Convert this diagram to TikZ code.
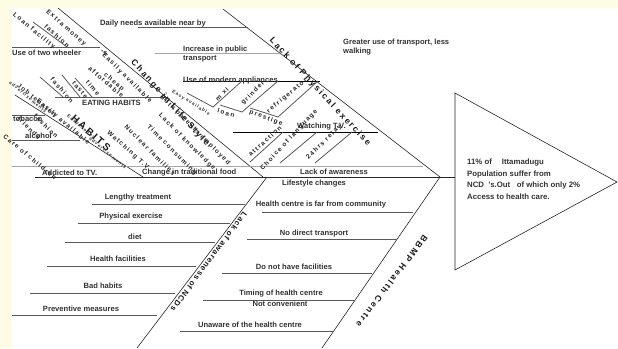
\documentclass[tikz,border=0pt]{standalone}
\usepackage{fontspec}
\setmainfont{Liberation Sans}
\newfontfamily\spaced[LetterSpace=22]{Liberation Sans}
\newfontfamily\spacedsm[LetterSpace=12]{Liberation Sans}
\usetikzlibrary{positioning}
\definecolor{bgyellow}{RGB}{255,252,230}
\tikzset{
    lbl/.style = {font=\bfseries\fontsize{7.6}{9}\selectfont, text=black!80, inner sep=0pt},
    tinylbl/.style = {font=\spaced\bfseries\fontsize{4.6}{5}\selectfont, text=black!80, inner sep=0pt},
    sub/.style = {font=\spaced\bfseries\fontsize{6.4}{7}\selectfont, text=black!85, inner sep=0pt},
    cause/.style = {font=\spaced\bfseries\fontsize{8.6}{10}\selectfont, text=black!90, inner sep=0pt},
    causesm/.style = {font=\spacedsm\bfseries\fontsize{7.8}{9}\selectfont, text=black!90, inner sep=0pt},
    bone/.style = {line width=0.6pt, black!85},
    twig/.style = {line width=0.8pt, black!65},
    greytwig/.style = {line width=0.9pt, black!35}
}
\begin{document}
\begin{tikzpicture}[x=1pt, y=-1pt]
\useasboundingbox (0,0) rectangle (618,348);
\fill[bgyellow] (0,0) rectangle (618,348);
\fill[white] (12,8) rectangle (618,348);

% main bones
\coordinate (tip) at (440,177);
\coordinate (pe) at (223,9);
\coordinate (ls) at (58,8);
\coordinate (lsE) at (263,177);
\coordinate (hb) at (15,95);
\coordinate (hbE) at (143,177);
\coordinate (aw) at (137,348);
\coordinate (awE) at (267,177);
\coordinate (hc) at (322,348);
\coordinate (sp) at (35,177);
\coordinate (h1) at (455,93);
\coordinate (h2) at (617,182);
\coordinate (h3) at (455,270);

\draw[bone] (pe) -- (tip);
\draw[bone] (ls) -- (lsE);
\draw[bone] (hb) -- (hbE);
\draw[bone] (aw) -- (awE);
\draw[bone] (hc) -- (tip);
\draw[bone] (sp) -- (h1 |- sp);
\draw[bone] (h1) -- (h2) -- (h3) -- cycle;
\draw[greytwig] (12,166) -- (423,166);

% head
\node[lbl, font=\bfseries\fontsize{7.8}{11.5}\selectfont, align=left, anchor=north west] (effect) at (467,159)
  {11\% of \quad Ittamadugu\\Population suffer from\\NCD \ 's.Out \ \ of which only 2\%\\Access to health care.};

% causes
\node[cause, rotate=-47] (physical) at (320,92) {Lack of Physical exercise};
\node[cause, rotate=-48] (lifestyle) at (170,103) {Change in Life Style};
\node[cause, font=\spaced\bfseries\fontsize{10}{11}\selectfont, rotate=-41] (habits) at (91,133) {HABITS};
\node[causesm, rotate=-127] (awareness) at (209,262) {Lack of awareness of NCDs};
\node[cause, rotate=-127] (bbmp) at (392,281) {BBMP Health Centre};

% physical exercise twigs
\draw[twig] (138,27) -- (248,27);
\draw[greytwig] (155,53) -- (280,53);
\draw[twig, black] (183,81) -- (320,81);
\draw[twig, black] (233,132) -- (378,132);
\node[lbl, anchor=base west] (daily) at (100,25) {Daily needs available near by};
\node[lbl, anchor=north west, align=left] (pubtr) at (183,46) {Increase in public\\transport};
\node[lbl, anchor=base west] (appl) at (183,82) {Use of modern appliances};
\node[lbl, anchor=north west, align=left] (walk) at (343,39) {Greater use of transport, less\\walking};
\node[lbl, anchor=base west] (tv) at (297,128) {Watching T.V.};
\draw[twig] (187,93) -- (213,107) -- (242,81);
\draw[twig] (220,105) -- (242,112) -- (278,81);
\draw[twig] (250,108) -- (278,117) -- (318,81);
\draw[twig] (250,162) -- (283,132);
\draw[twig] (280,163) -- (317,132);
\draw[twig] (315,163) -- (352,132);
\node[tinylbl, rotate=-32] (easy) at (191,103) {Easy available};
\node[sub, rotate=45] (mixi) at (222,94) {m xi};
\node[sub, rotate=-15] (loan) at (226,113) {loan};
\node[sub, rotate=45] (grinder) at (253,93) {grinder};
\node[sub, rotate=40] (fridge) at (287,96) {refrigerator};
\node[sub, rotate=-20] (prestige) at (266,118) {prestige};
\node[sub, rotate=42] (attr) at (265,141) {attraction};
\node[sub, rotate=47] (lang) at (289,140) {Choice of language};
\node[sub, rotate=45] (relay) at (324,142) {24hrs relay};

% life style twigs
\draw[twig] (12,47) -- (100,47);
\draw[twig] (33,22) -- (67,47);
\draw[twig] (55,97) -- (166,97);
\draw[twig] (40,77) -- (63,97);
\draw[twig] (62,75) -- (80,97);
\draw[twig] (75,78) -- (92,97);
\node[sub, rotate=-42] (money) at (66,28) {Extra money};
\node[sub, rotate=-42] (fash1) at (57,36) {fashion};
\node[sub, rotate=-40] (loanfac) at (34,31) {Loan facility};
\node[lbl, anchor=base west] (wheeler) at (12,55) {Use of two wheeler};
\node[lbl, anchor=base west] (apos) at (101,55) {'s};
\node[sub, rotate=-45] (easily) at (127,78) {Easily available};
\node[sub, rotate=-40] (cheap) at (114,82) {cheap};
\node[sub, rotate=-40] (afford) at (106,82) {affordable};
\node[sub, rotate=-50] (time) at (93,88) {time};
\node[sub, rotate=-50] (taste) at (80,90) {taste};
\node[sub, rotate=-50] (fash2) at (62,90) {fashion};
\node[lbl, anchor=base west] (eating) at (82,105) {EATING HABITS};
\node[sub, rotate=-45] (parents) at (195,130) {Both parents employed};
\node[sub, rotate=-45] (know) at (187,142) {Lack of knowledge};
\node[sub, rotate=-45] (timec) at (172,150) {Time consuming};
\node[sub, rotate=-45] (nuclear) at (150,150) {Nuclear families};
\node[sub, rotate=-42] (tv2) at (128,150) {Watching T.V};
\node[lbl, anchor=base west] (food) at (142,174) {Change in traditional food};

% habits twigs
\draw[twig] (12,115) -- (45,115);
\draw[twig] (12,140) -- (80,140);
\node[sub, rotate=-40] (job) at (37,100) {Job tension};
\node[tinylbl, rotate=-40] (adv1) at (28,97) {advertisements};
\node[lbl, anchor=base west] (tobacco) at (13,121) {tobacco};
\node[sub, rotate=-45] (friends) at (29,128) {friends};
\node[sub, rotate=-45] (fash3) at (46,126) {fashion};
\node[sub, rotate=-40] (easily2) at (63,122) {Easily available};
\node[tinylbl, rotate=-40] (emoney) at (81,127) {Easy money};
\node[lbl, anchor=base west] (alcohol) at (25,138) {alcohol};
\node[tinylbl, rotate=-40] (adv2) at (108,153) {advertisements};
\node[sub, rotate=-40] (care) at (30,157) {Care of children};
\node[lbl, anchor=base west] (addict) at (42,175) {Addicted to TV.};
\node[lbl, anchor=base west] (lackaw) at (300,174) {Lack of awareness};
\node[lbl, anchor=base west] (lschange) at (282,185) {Lifestyle changes};

% awareness twigs
\draw[twig] (92,204) -- (245,204);
\draw[twig] (78,223) -- (230,223);
\draw[twig] (65,242) -- (215,242);
\draw[twig] (47,266) -- (196,266);
\draw[twig] (30,293) -- (175,293);
\draw[twig] (12,315) -- (157,315);
\node[lbl] (lengthy) at (138,198) {Lengthy treatment};
\node[lbl] (exer) at (131,217) {Physical exercise};
\node[lbl] (diet) at (135,237) {diet};
\node[lbl] (facil) at (118,259) {Health facilities};
\node[lbl] (bad) at (103,286) {Bad habits};
\node[lbl] (prevent) at (81,309) {Preventive measures};

% health centre twigs
\draw[twig] (262,212) -- (413,212);
\draw[twig] (247,239) -- (397,239);
\draw[twig] (222,273) -- (372,273);
\draw[twig] (203,300) -- (355,300);
\draw[twig] (180,331) -- (334,331);
\node[lbl] (far) at (321,205) {Health centre is far from community};
\node[lbl] (direct) at (314,234) {No direct transport};
\node[lbl] (nofac) at (294,267) {Do not have facilities};
\node[lbl] (timing) at (281,294) {Timing of health centre};
\node[lbl] (conv) at (280,304) {Not convenient};
\node[lbl] (unaware) at (250,325) {Unaware of the health centre};
\end{tikzpicture}
\end{document}
